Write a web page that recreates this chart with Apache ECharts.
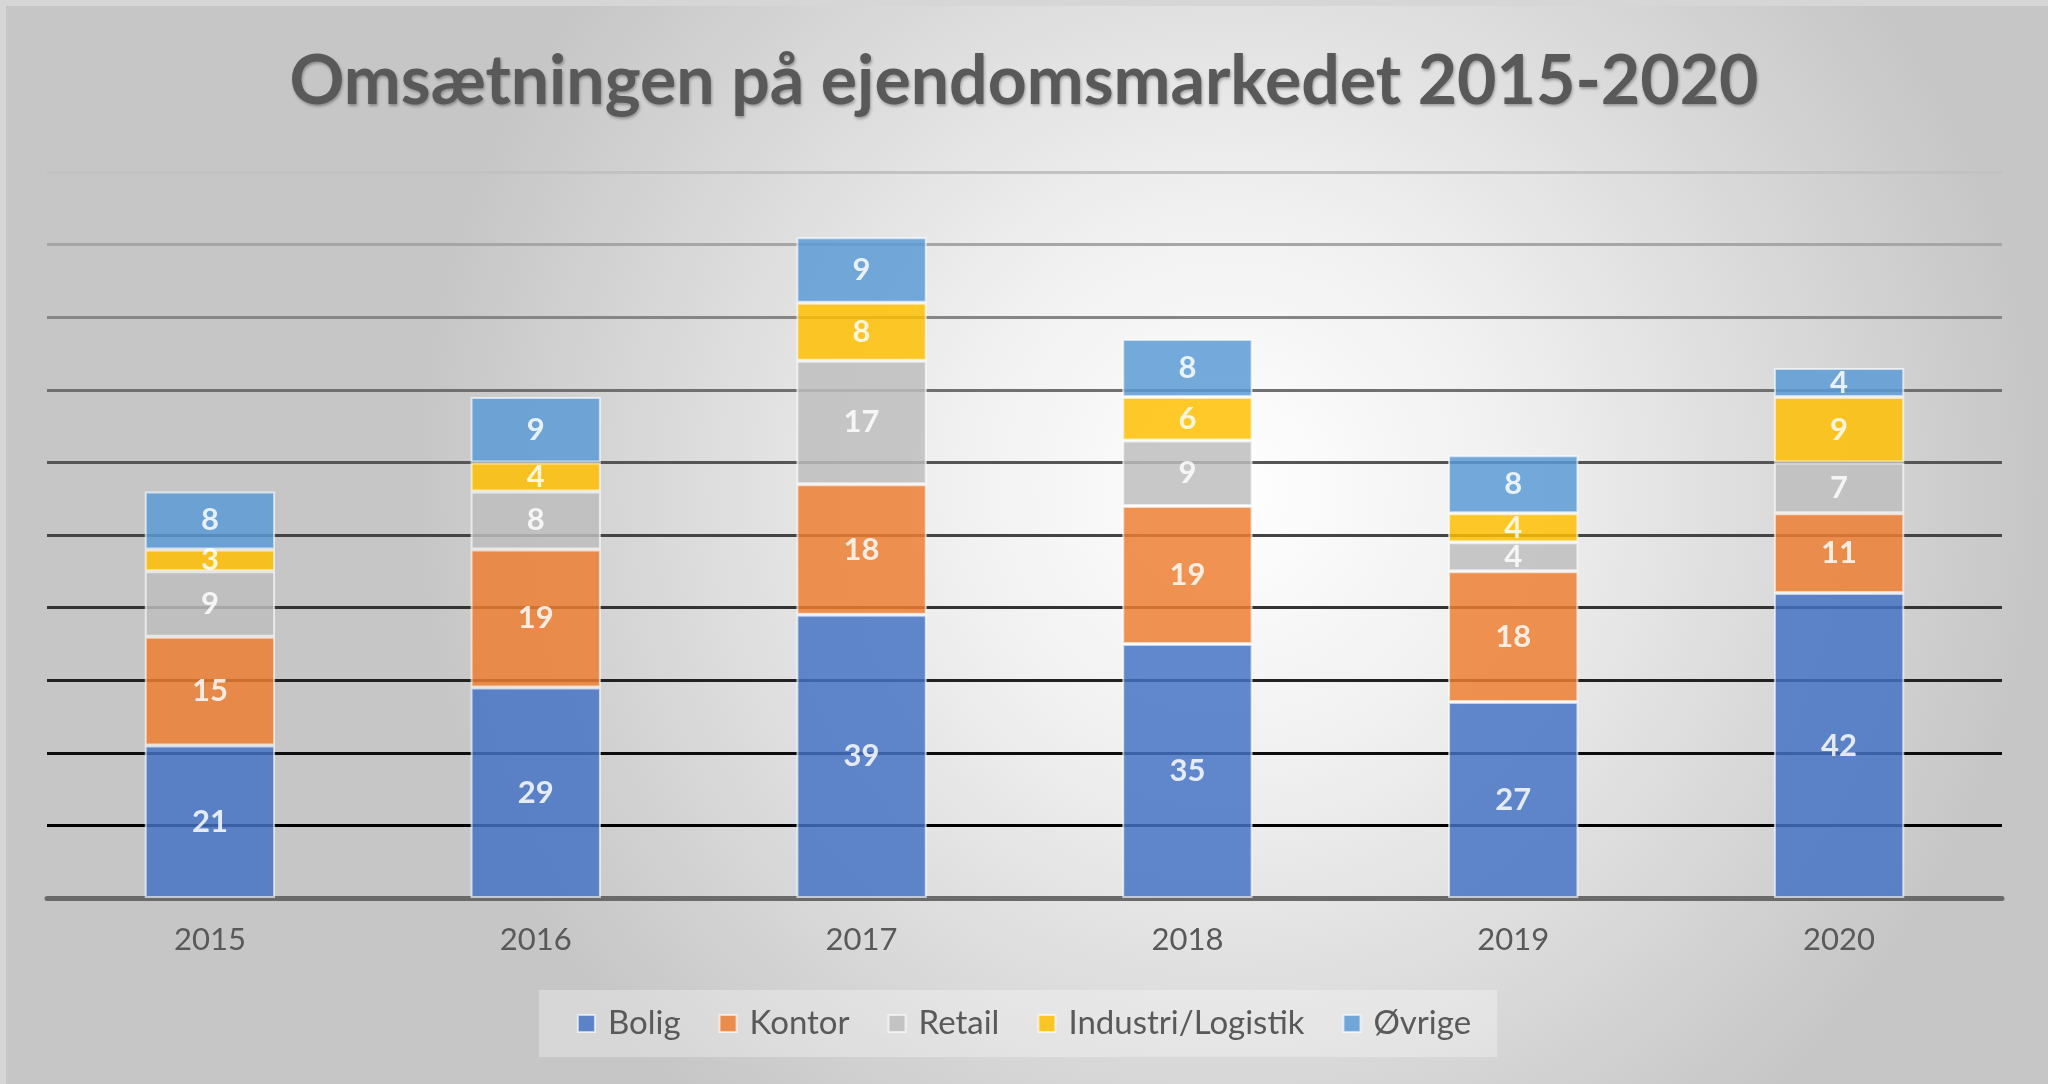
<!DOCTYPE html>
<html><head><meta charset="utf-8">
<script src="https://cdn.jsdelivr.net/npm/echarts@6/dist/echarts.min.js"></script>
<style>html,body{margin:0;padding:0;background:#fff}#c{width:2048px;height:1084px}</style>
</head><body><div id="c"></div>
<script>
const years = ['2015','2016','2017','2018','2019','2020'];
const bolig = [21, 29, 39, 35, 27, 42];
const kontor = [15, 19, 18, 19, 18, 11];
const retail = [9, 8, 17, 9, 4, 7];
const industri = [3, 4, 8, 6, 4, 9];
const ovrige = [8, 9, 9, 8, 8, 4];
const seriesNames = ['Bolig','Kontor','Retail','Industri/Logistik','Øvrige'];
const seriesColors = ['#4472C4','#ED7D31','#BDBDBD','#FFC000','#5B9BD5'];
const seriesData = [bolig, kontor, retail, industri, ovrige];

const chart = echarts.init(document.getElementById('c'));
const font = 'Lato, "Open Sans", sans-serif';
chart.setOption({
  animation: false,
  backgroundColor: {
    type: 'radial', x: 0.6, y: 0.45, r: 0.75,
    colorStops: [{offset: 0, color: '#ffffff'}, {offset: 0.35, color: '#f0f0f0'}, {offset: 1, color: '#c6c6c6'}]
  },
  graphic: [{type: 'rect', left: 0, top: 0, shape: {width: 2048, height: 1084}, silent: true,
    style: {fill: 'none', stroke: '#d6d6d6', lineWidth: 6}}],
  title: {
    text: 'Omsætningen på ejendomsmarkedet 2015-2020',
    left: 'center', top: 43,
    textStyle: {fontFamily: font, fontWeight: 'bold', fontSize: 68, color: '#595959',
      textShadowColor: 'rgba(0,0,0,0.3)', textShadowBlur: 3, textShadowOffsetX: 1, textShadowOffsetY: 2}
  },
  legend: {
    data: seriesNames, left: 'center', top: 990, icon: 'rect', itemWidth: 17, itemHeight: 17, itemGap: 38,
    padding: [17, 26, 17, 38], backgroundColor: 'rgba(255,255,255,0.3)',
    textStyle: {fontFamily: font, fontSize: 33, color: '#595959', padding: [0, 0, 0, 8]}
  },
  grid: {left: 47, right: 46, top: 172, bottom: 186},
  xAxis: {
    type: 'category', data: years,
    axisLine: {lineStyle: {color: '#6a6a6a', width: 5}},
    axisTick: {show: false},
    axisLabel: {fontFamily: font, fontSize: 31, color: '#595959', margin: 26}
  },
  yAxis: {
    type: 'value', min: 0, max: 100, interval: 10,
    axisLabel: {show: false}, axisLine: {show: false}, axisTick: {show: false},
    splitLine: {lineStyle: {width: 3, color: ['#000','#000','#0d0d0d','#222','#333','#444','#555','#707070','#868686','#a6a6a6','#c2c2c2']}}
  },
  series: seriesData.map((d, i) => ({
    name: seriesNames[i], type: 'bar', stack: 'total', data: d, barWidth: '40%',
    itemStyle: {color: seriesColors[i], opacity: 0.84, borderColor: 'rgba(255,255,255,0.75)', borderWidth: 2},
    label: {show: true, position: 'inside', color: '#fff', fontFamily: font, fontWeight: 'bold', fontSize: 31}
  }))
});
</script></body></html>
